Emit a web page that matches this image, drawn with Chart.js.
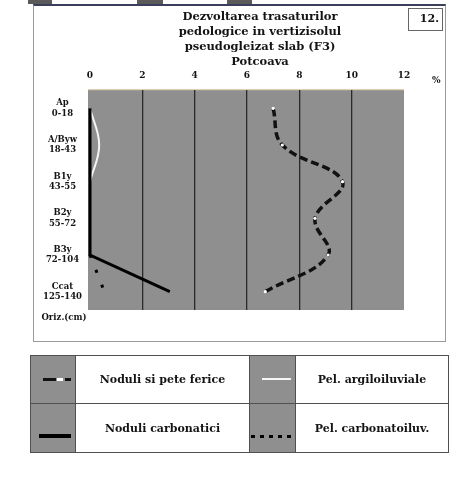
<!DOCTYPE html>
<html>
<head>
<meta charset="utf-8">
<script src="https://cdn.jsdelivr.net/npm/chart.js@4.4.1/dist/chart.umd.min.js"></script>
<style>
html,body{margin:0;padding:0;background:#fff;}
body{width:450px;height:496px;position:relative;overflow:hidden;font-family:"DejaVu Serif",serif;font-weight:bold;color:#141414;}
#c{position:absolute;left:0;top:0;}
.abs{position:absolute;}
#frame{left:33px;top:4px;width:413px;height:338px;border:1px solid #9a9a9a;border-top:2px solid #3c3f5a;box-sizing:border-box;}
.blk{position:absolute;top:0;height:4px;background:#5a5a5a;}
#title{left:150px;top:9px;width:220px;text-align:center;font-size:11.5px;line-height:15px;}
#num{left:408px;top:8px;width:35px;height:23px;border:1.5px solid #666;box-sizing:border-box;text-align:right;font-size:11px;line-height:19px;padding-right:3px;}
#pct{left:432px;top:75px;font-size:9px;}
#oriz{left:34px;top:312px;width:60px;text-align:center;font-size:8.5px;}
#leg{left:30px;top:355px;width:418px;height:97px;border-collapse:collapse;table-layout:fixed;}
#leg td{border:1.5px solid #505050;padding:0;position:relative;text-align:center;font-size:11px;}
#leg td.g{background:#8f8f8f;}
.sym{position:absolute;}
</style>
</head>
<body>
<div class="blk" style="left:28px;width:24px"></div>
<div class="blk" style="left:137px;width:26px"></div>
<div class="blk" style="left:227px;width:25px"></div>
<div id="frame" class="abs"></div>
<canvas id="c" width="450" height="496"></canvas>
<div id="title" class="abs">Dezvoltarea trasaturilor<br>pedologice in vertizisolul<br>pseudogleizat slab (F3)<br>Potcoava</div>
<div id="num" class="abs">12.</div>
<div id="pct" class="abs">%</div>
<div id="oriz" class="abs">Oriz.(cm)</div>
<table id="leg" class="abs">
<colgroup><col style="width:45px"><col style="width:174px"><col style="width:46px"><col style="width:153px"></colgroup>
<tr style="height:48px">
<td class="g"><div class="sym" style="left:12px;top:22px;width:13px;height:3px;background:#111"></div><div class="sym" style="left:26px;top:22px;width:6px;height:3px;background:#fff"></div><div class="sym" style="left:34px;top:22px;width:6px;height:3px;background:#111"></div></td>
<td>Noduli si pete ferice</td>
<td class="g"><div class="sym" style="left:12px;top:22px;width:29px;height:2px;background:#f6f6f6"></div></td>
<td>Pel. argiloiluviale</td>
</tr>
<tr style="height:49px">
<td class="g"><div class="sym" style="left:8px;top:30px;width:32px;height:4px;background:#000"></div></td>
<td>Noduli carbonatici</td>
<td class="g"><div class="sym" style="left:1px;top:31px;width:43px;height:3px;background:repeating-linear-gradient(90deg,#000 0 4px,transparent 4px 9px)"></div></td>
<td>Pel. carbonatoiluv.</td>
</tr>
</table>
<script>
// ---- data ----
const horizonNames  = ["Ap", "A/Byw", "B1y", "B2y", "B3y", "Ccat"];
const horizonDepths = ["0-18", "18-43", "43-55", "55-72", "72-104", "125-140"];
const ferricNodules     = [7.0, 7.35, 9.65, 8.6, 9.1, 6.7];   // Noduli si pete ferice
const argilluvialFilms  = [0, 0.35, 0, null, null, null];     // Pel. argiloiluviale
const carbonateNodules  = [0, 0, 0, 0, 0, 3.05];              // Noduli carbonatici
const carbonateFilms    = [null, null, null, null, 0, 0.55];  // Pel. carbonatoiluv.
const xTickValues = [0, 2, 4, 6, 8, 10, 12];

const labels = horizonNames.map((n, i) => [n, horizonDepths[i]]);

Chart.defaults.font.family = '"DejaVu Serif", serif';
Chart.defaults.font.weight = 'bold';
Chart.defaults.color = '#141414';

const plotBg = {
  id: 'plotBg',
  beforeDraw(chart) {
    const a = chart.chartArea, ctx = chart.ctx;
    ctx.save();
    ctx.fillStyle = '#8f8f8f';
    ctx.fillRect(a.left - 2, a.top, a.right - a.left + 2, a.bottom - a.top);
    ctx.fillStyle = '#e2cdb0';
    ctx.fillRect(a.left - 2, a.top - 1, a.right - a.left + 2, 1.2);
    ctx.restore();
  }
};

new Chart(document.getElementById('c'), {
  type: 'line',
  data: {
    labels: labels,
    datasets: [
      { label: 'Noduli si pete ferice', data: ferricNodules, borderColor: '#111', borderWidth: 3.5,
        borderDash: [8, 4], tension: 0.4, pointRadius: 1.6, pointBackgroundColor: '#fff',
        pointBorderWidth: 0, order: 0, clip: false },
      { label: 'Noduli carbonatici', data: carbonateNodules, borderColor: '#000', borderWidth: 3,
        tension: 0, pointRadius: 0, order: 1, clip: false },
      { label: 'Pel. carbonatoiluv.', data: carbonateFilms, borderColor: '#000', borderWidth: 3,
        borderDash: [3, 13], tension: 0, pointRadius: 0, order: 1, clip: false },
      { label: 'Pel. argiloiluviale', data: argilluvialFilms, borderColor: '#f4f4f4', borderWidth: 2,
        tension: 0.4, pointRadius: 0, order: 2, clip: false }
    ]
  },
  options: {
    indexAxis: 'y',
    responsive: false,
    animation: false,
    layout: { padding: { left: 0, top: 60, right: 46, bottom: 186 } },
    plugins: { legend: { display: false }, tooltip: { enabled: false }, title: { display: false } },
    scales: {
      x: {
        type: 'linear', position: 'top', min: 0, max: 12,
        afterBuildTicks: s => { s.ticks = xTickValues.map(v => ({ value: v })); },
        afterFit: s => { s.height = 30; },
        ticks: { font: { size: 9, weight: 'bold' }, padding: 9, color: '#141414' },
        grid: { drawTicks: false, lineWidth: 1.3,
          color: c => (c.tick && (c.tick.value === 0 || c.tick.value === 12)) ? 'rgba(0,0,0,0)' : '#2a2a2a' },
        border: { display: false }
      },
      y: {
        type: 'category', offset: true,
        afterFit: s => { s.width = 90; },
        ticks: { font: { size: 8.5, weight: 'bold', lineHeight: 1.2 }, padding: 8, crossAlign: 'center', color: '#141414' },
        grid: { display: false, drawTicks: false },
        border: { display: false }
      }
    }
  },
  plugins: [plotBg]
});
</script>
</body>
</html>
